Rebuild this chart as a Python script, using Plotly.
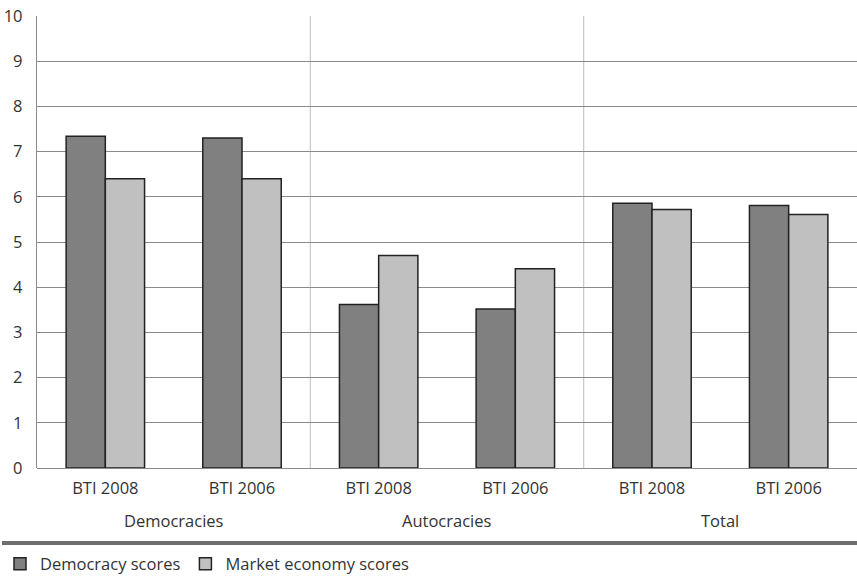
import plotly.graph_objects as go

# Regime groups and survey editions
groups = ["Democracies", "Autocracies", "Total"]
editions = ["BTI 2008", "BTI 2006"]

# Mean scores per group, one pair of editions each (BTI 2008, BTI 2006)
democracy_scores = [7.34, 7.30, 3.62, 3.52, 5.86, 5.81]
market_economy_scores = [6.40, 6.40, 4.70, 4.41, 5.72, 5.61]

y_ticks = list(range(0, 11))

# one category slot per (group, edition)
slots = [f"{g}|{e}" for g in groups for e in editions]
slot_text = [e for g in groups for e in editions]

FONT = "Open Sans"
TEXT = "#333333"
GRID = "#8a8a8a"
FS = 16.5

fig = go.Figure()
fig.add_trace(go.Bar(
    name="Democracy scores",
    x=slots,
    y=democracy_scores,
    marker=dict(color="#808080", line=dict(color="#222222", width=1.5)),
))
fig.add_trace(go.Bar(
    name="Market economy scores",
    x=slots,
    y=market_economy_scores,
    marker=dict(color="#c0c0c0", line=dict(color="#222222", width=1.5)),
))

# group labels centred under their pair of editions
n_ed = len(editions)
for i, g in enumerate(groups):
    fig.add_annotation(x=i * n_ed + (n_ed - 1) / 2, xref="x", y=-52 / 452, yref="paper",
                       text=g, showarrow=False, yanchor="middle",
                       font=dict(family=FONT, size=FS, color=TEXT))

# light vertical separators between regime groups
for i in range(1, len(groups)):
    fig.add_shape(type="line", xref="x", yref="paper", x0=i * n_ed - 0.5, x1=i * n_ed - 0.5,
                  y0=0, y1=1, line=dict(color="#c8c8c8", width=1.2), layer="below")

# heavy rule above the legend
fig.add_shape(type="line", xref="paper", yref="paper", x0=-35 / 820, x1=1,
              y0=-75 / 452, y1=-75 / 452, line=dict(color="#6e6e6e", width=4))

fig.update_layout(
    width=857, height=576,
    margin=dict(l=37, r=0, t=16, b=108, autoexpand=False),
    plot_bgcolor="white", paper_bgcolor="white",
    font=dict(family=FONT, size=FS, color=TEXT),
    barmode="group", bargap=0.426, bargroupgap=0,
    showlegend=True,
    legend=dict(orientation="h", xref="container", yref="container", x=-0.01, xanchor="left",
                y=12 / 576, yanchor="middle", font=dict(family=FONT, size=FS, color=TEXT),
                bgcolor="rgba(0,0,0,0)", itemwidth=30),
    xaxis=dict(type="category", tickvals=slots, ticktext=slot_text, showgrid=False,
               showline=False, ticks="", automargin=False, ticklabelstandoff=8,
               tickfont=dict(family=FONT, size=FS, color=TEXT)),
    yaxis=dict(range=[0, 10], tickvals=y_ticks, showgrid=True, gridcolor=GRID, gridwidth=1.3,
               showline=True, linecolor=GRID, linewidth=1.3, zeroline=True, zerolinecolor=GRID,
               zerolinewidth=1.3, ticks="", ticklabelstandoff=10, automargin=False,
               tickfont=dict(family=FONT, size=FS, color=TEXT)),
)

fig.write_html("out.html")
